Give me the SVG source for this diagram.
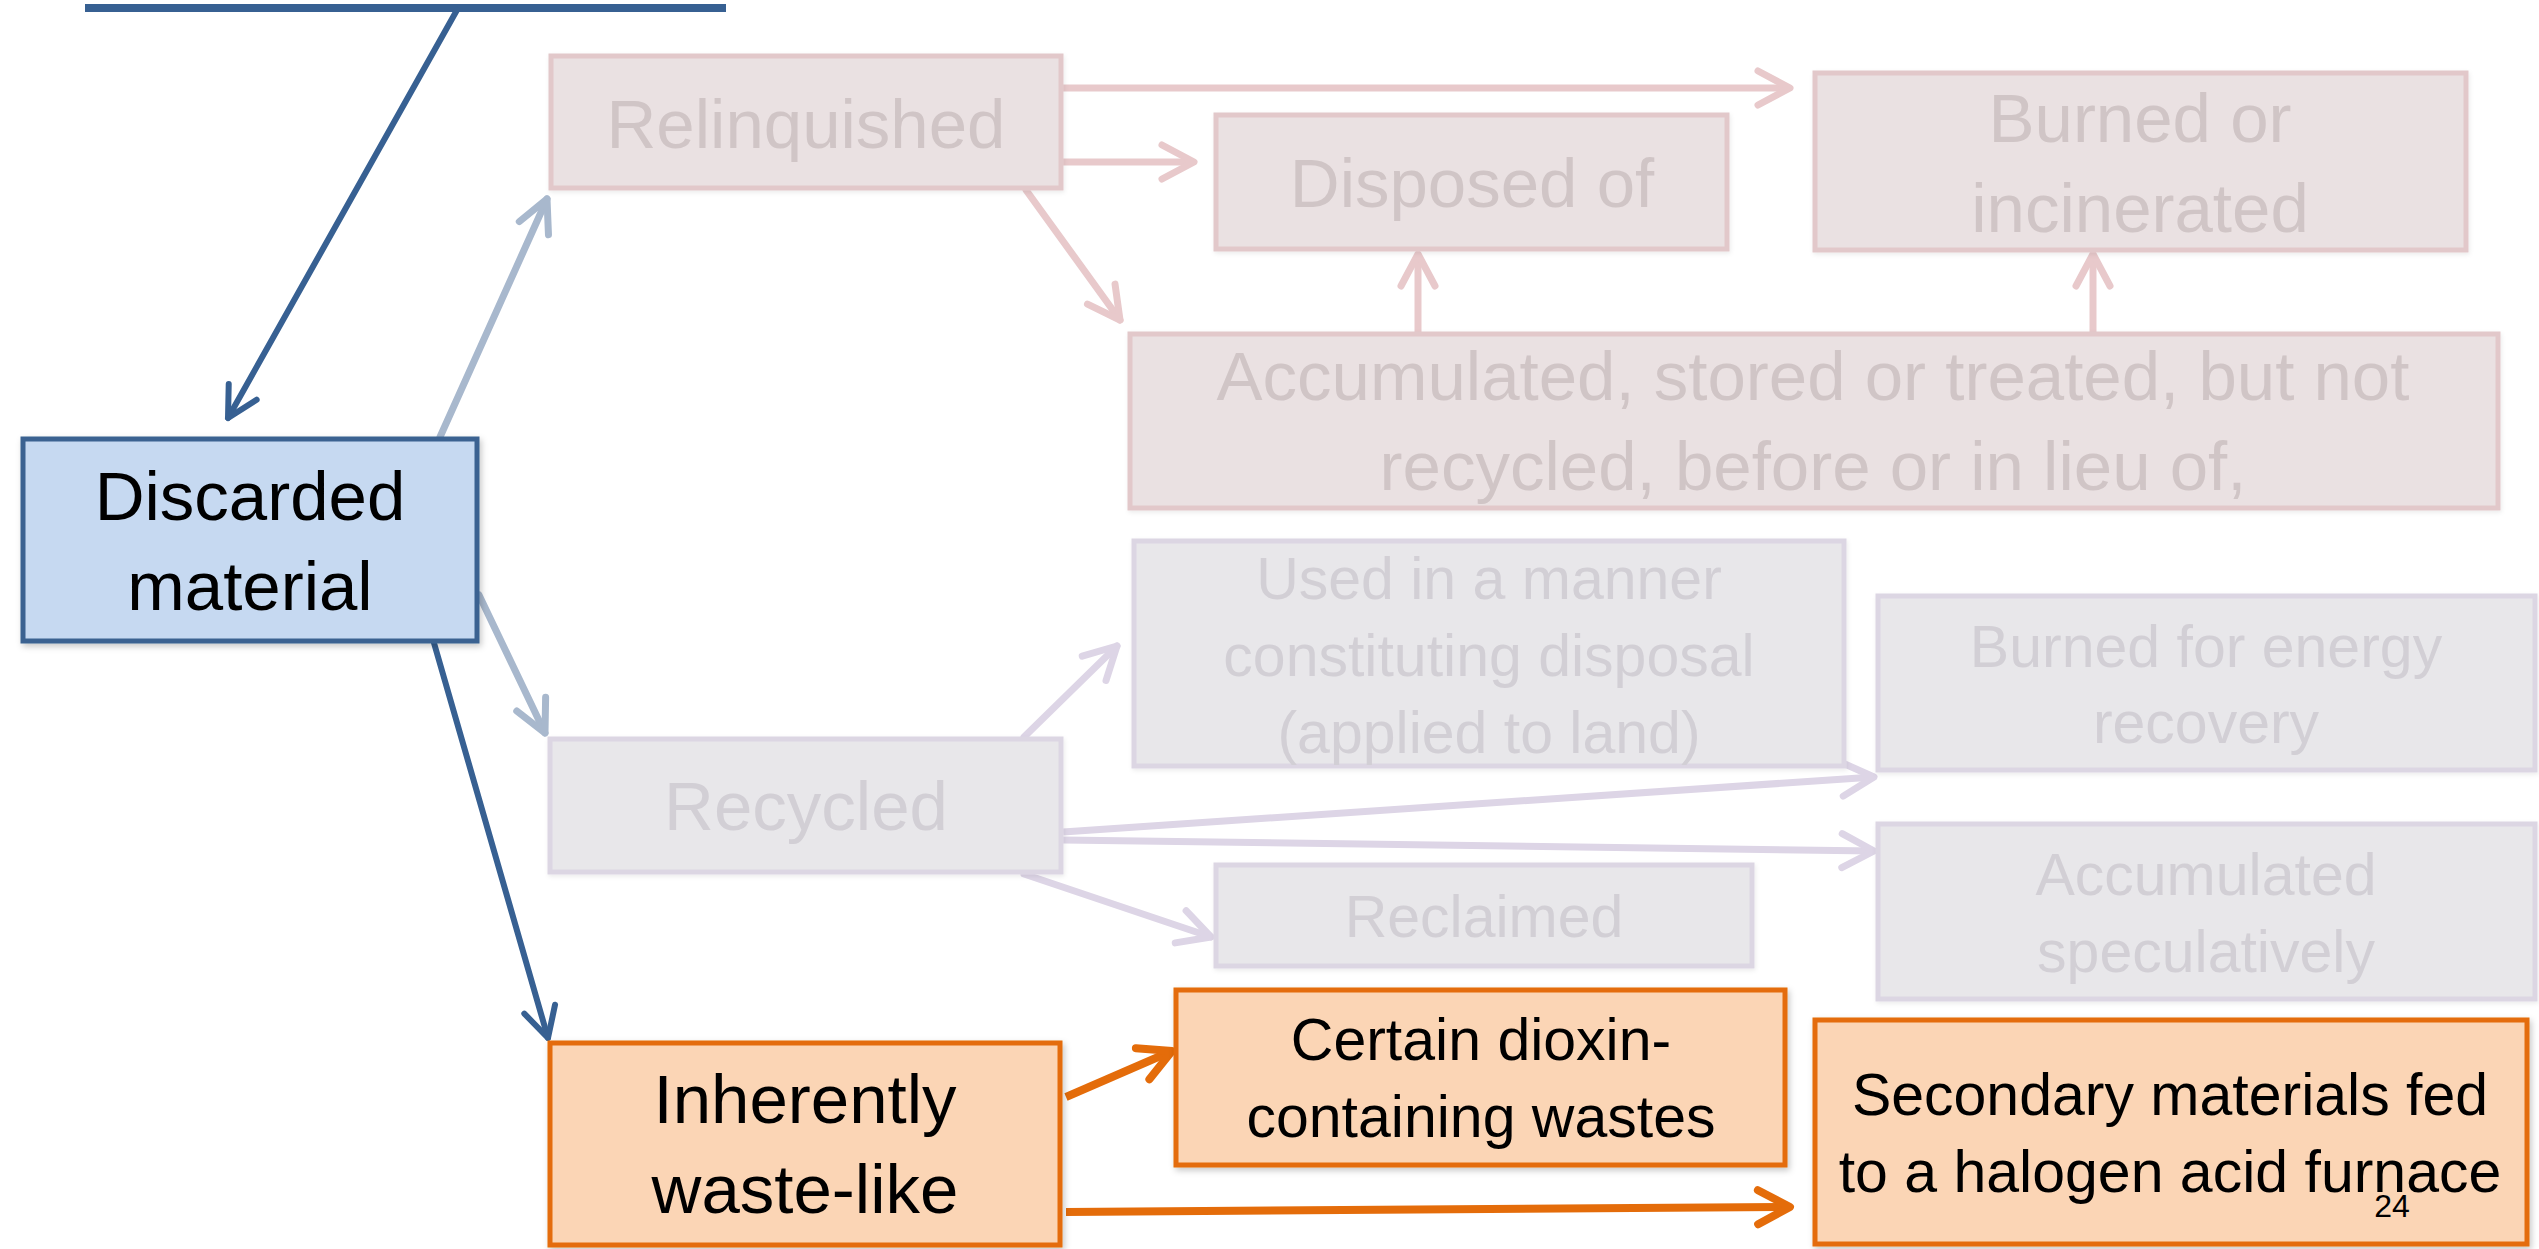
<svg xmlns="http://www.w3.org/2000/svg" width="2539" height="1249" viewBox="0 0 2539 1249">
<defs>
<filter id="sh" x="-5%" y="-5%" width="115%" height="120%">
<feDropShadow dx="2" dy="3" stdDeviation="3" flood-color="#000" flood-opacity="0.22"/>
</filter>
<filter id="shl" x="-5%" y="-5%" width="115%" height="120%">
<feDropShadow dx="1" dy="2" stdDeviation="2" flood-color="#000" flood-opacity="0.08"/>
</filter>
<marker id="mDark" markerUnits="userSpaceOnUse" orient="auto" overflow="visible" markerWidth="40" markerHeight="40">
<path d="M-30,-16 L0,0 L-30,16" fill="none" stroke="#376092" stroke-width="6" stroke-linecap="round" stroke-linejoin="round"/>
</marker>
<marker id="mFade" markerUnits="userSpaceOnUse" orient="auto" overflow="visible" markerWidth="40" markerHeight="40">
<path d="M-32,-16 L0,0 L-32,16" fill="none" stroke="#a8b8cd" stroke-width="7" stroke-linecap="round" stroke-linejoin="round"/>
</marker>
<marker id="mPink" markerUnits="userSpaceOnUse" orient="auto" overflow="visible" markerWidth="40" markerHeight="40">
<path d="M-32,-17 L0,0 L-32,17" fill="none" stroke="#e8c9cb" stroke-width="7" stroke-linecap="round" stroke-linejoin="round"/>
</marker>
<marker id="mPurp" markerUnits="userSpaceOnUse" orient="auto" overflow="visible" markerWidth="40" markerHeight="40">
<path d="M-32,-17 L0,0 L-32,17" fill="none" stroke="#ddd5e6" stroke-width="7" stroke-linecap="round" stroke-linejoin="round"/>
</marker>
<marker id="mOr" markerUnits="userSpaceOnUse" orient="auto" overflow="visible" markerWidth="40" markerHeight="40">
<path d="M-32,-17 L0,0 L-32,17" fill="none" stroke="#e46c0a" stroke-width="8" stroke-linecap="round" stroke-linejoin="round"/>
</marker>
</defs>
<style>
text { font-family: "Liberation Sans", Arial, sans-serif; text-anchor: middle; }
.big { font-size: 69px; }
.sm { font-size: 59px; }
.bluebox { fill: #c6d9f1; stroke: #3a6291; stroke-width: 5; }
.orbox { fill: #fbd5b5; stroke: #e46c0a; stroke-width: 5; }
.pinkbox { fill: #eae1e2; stroke: #e2c8ca; stroke-width: 5; }
.purpbox { fill: #e8e7ea; stroke: #dcd6e3; stroke-width: 5; }
.dk { fill: #000; }
.pt { fill: #d0c5c6; }
.ut { fill: #d2cfd5; }
.cDark { stroke: #376092; stroke-width: 6; fill: none; }
.cFade { stroke: #a8b8cd; stroke-width: 7; fill: none; }
.cPink { stroke: #e8c9cb; stroke-width: 7; fill: none; }
.cPurp { stroke: #ddd5e6; stroke-width: 7; fill: none; }
.cOr { stroke: #e46c0a; stroke-width: 8; fill: none; }
</style>
<rect x="0" y="0" width="2539" height="1249" fill="#ffffff"/>

<g id="connectors" stroke-linecap="round">
<line x1="85" y1="8" x2="726" y2="8" stroke="#376092" stroke-width="8" stroke-linecap="butt"/>
<line class="cDark" x1="457" y1="10" x2="228" y2="418" marker-end="url(#mDark)"/>
<line class="cFade" x1="440" y1="437" x2="547" y2="199" marker-end="url(#mFade)"/>
<line class="cFade" x1="479" y1="595" x2="545" y2="733" marker-end="url(#mFade)"/>
<line class="cDark" x1="434" y1="643" x2="548" y2="1038" marker-end="url(#mDark)"/>
<line class="cPink" x1="1063" y1="88" x2="1790" y2="88" marker-end="url(#mPink)" stroke-linecap="butt"/>
<line class="cPink" x1="1063" y1="162" x2="1194" y2="162" marker-end="url(#mPink)" stroke-linecap="butt"/>
<line class="cPink" x1="1026" y1="190" x2="1120" y2="320" marker-end="url(#mPink)"/>
<line class="cPink" x1="1418" y1="332" x2="1418" y2="254" marker-end="url(#mPink)" stroke-linecap="butt"/>
<line class="cPink" x1="2093" y1="332" x2="2093" y2="254" marker-end="url(#mPink)" stroke-linecap="butt"/>
<line class="cPurp" x1="1024" y1="737" x2="1117" y2="646" marker-end="url(#mPurp)"/>
<line class="cPurp" x1="1063" y1="832" x2="1874" y2="777" marker-end="url(#mPurp)" stroke-linecap="butt"/>
<line class="cPurp" x1="1063" y1="840" x2="1874" y2="851" marker-end="url(#mPurp)" stroke-linecap="butt"/>
<line class="cPurp" x1="1024" y1="874" x2="1211" y2="937" marker-end="url(#mPurp)"/>
<line class="cOr" x1="1066" y1="1097" x2="1172" y2="1051" marker-end="url(#mOr)" stroke-linecap="butt"/>
<line class="cOr" x1="1066" y1="1212" x2="1790" y2="1207" marker-end="url(#mOr)" stroke-linecap="butt"/>
</g>

<g id="relinquished">
<rect class="pinkbox" x="551" y="56" width="510" height="132" filter="url(#shl)"/>
<text class="big pt" x="806" y="148">Relinquished</text>
</g>
<g id="disposed-of">
<rect class="pinkbox" x="1216" y="115" width="511" height="134" filter="url(#shl)"/>
<text class="big pt" x="1472" y="207">Disposed of</text>
</g>
<g id="burned-or-incinerated">
<rect class="pinkbox" x="1815" y="73" width="651" height="177" filter="url(#shl)"/>
<text class="big pt" x="2140" y="142">Burned or</text>
<text class="big pt" x="2140" y="232">incinerated</text>
</g>
<g id="accumulated-stored">
<rect class="pinkbox" x="1130" y="334" width="1368" height="174" filter="url(#shl)"/>
<text class="big pt" x="1813" y="400">Accumulated, stored or treated, but not</text>
<text class="big pt" x="1813" y="490">recycled, before or in lieu of,</text>
</g>
<g id="discarded-material">
<rect class="bluebox" x="23" y="439" width="454" height="202" filter="url(#sh)"/>
<text class="big dk" x="250" y="520">Discarded</text>
<text class="big dk" x="250" y="610">material</text>
</g>
<g id="used-in-manner">
<rect class="purpbox" x="1134" y="541" width="710" height="225" filter="url(#shl)"/>
<text class="sm ut" x="1489" y="599">Used in a manner</text>
<text class="sm ut" x="1489" y="676">constituting disposal</text>
<text class="sm ut" x="1489" y="753">(applied to land)</text>
</g>
<g id="burned-for-energy">
<rect class="purpbox" x="1878" y="596" width="657" height="174" filter="url(#shl)"/>
<text class="sm ut" x="2206" y="667">Burned for energy</text>
<text class="sm ut" x="2206" y="743">recovery</text>
</g>
<g id="recycled">
<rect class="purpbox" x="550" y="739" width="511" height="133" filter="url(#shl)"/>
<text class="big ut" x="806" y="830">Recycled</text>
</g>
<g id="accumulated-speculatively">
<rect class="purpbox" x="1878" y="824" width="657" height="175" filter="url(#shl)"/>
<text class="sm ut" x="2206" y="895">Accumulated</text>
<text class="sm ut" x="2206" y="972">speculatively</text>
</g>
<g id="reclaimed">
<rect class="purpbox" x="1216" y="865" width="536" height="101" filter="url(#shl)"/>
<text class="sm ut" x="1484" y="937">Reclaimed</text>
</g>
<g id="inherently-waste-like">
<rect class="orbox" x="550" y="1043" width="510" height="202" filter="url(#sh)"/>
<text class="big dk" x="805" y="1123">Inherently</text>
<text class="big dk" x="805" y="1213">waste-like</text>
</g>
<g id="certain-dioxin">
<rect class="orbox" x="1176" y="990" width="609" height="175" filter="url(#sh)"/>
<text class="sm dk" x="1481" y="1060">Certain dioxin-</text>
<text class="sm dk" x="1481" y="1137">containing wastes</text>
</g>
<g id="secondary-materials">
<rect class="orbox" x="1815" y="1020" width="712" height="224" filter="url(#sh)"/>
<text class="sm dk" x="2170" y="1115">Secondary materials fed</text>
<text class="sm dk" x="2170" y="1192">to a halogen acid furnace</text>
</g>
<text x="2392" y="1217" style="font-size:32px;fill:#000">24</text>
</svg>
